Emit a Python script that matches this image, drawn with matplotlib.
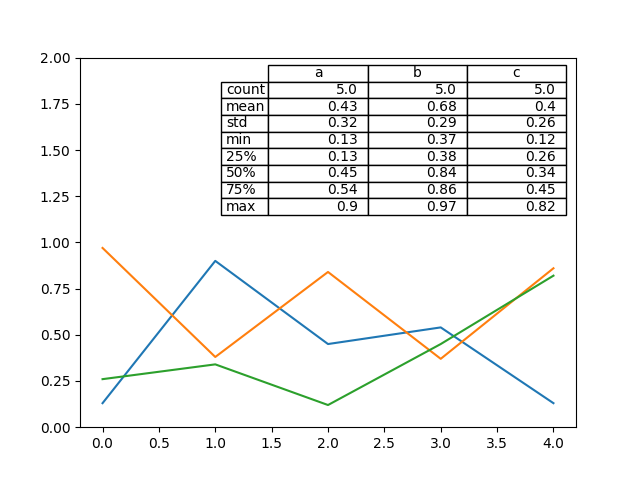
import numpy as np
import pandas as pd
import matplotlib
matplotlib.use("Agg")
import matplotlib.pyplot as plt
from pandas.plotting import table

# series values
a = [0.13, 0.90, 0.45, 0.54, 0.13]
b = [0.97, 0.38, 0.84, 0.37, 0.86]
c = [0.26, 0.34, 0.12, 0.45, 0.82]

df = pd.DataFrame({"a": a, "b": b, "c": c})

fig, ax = plt.subplots(figsize=(6.4, 4.8), dpi=100)
df.plot(ax=ax, legend=False, ylim=(0, 2))
table(ax, np.round(df.describe(), 2), loc="upper right", colWidths=[0.2, 0.2, 0.2])
fig.savefig("out.png")
